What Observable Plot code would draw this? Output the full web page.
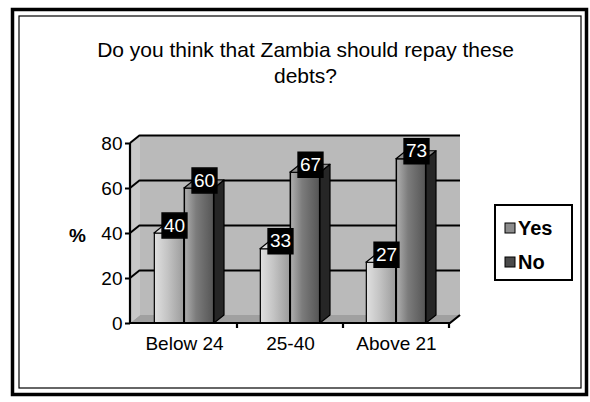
<!DOCTYPE html>
<html>
<head>
<meta charset="utf-8">
<script src="https://cdn.jsdelivr.net/npm/d3@7"></script>
<script src="https://cdn.jsdelivr.net/npm/@observablehq/plot@0.6"></script>
<style>
  html, body { margin: 0; padding: 0; background: #fff; }
  #chart svg { display: block; }
  #chart g[aria-label="y-axis tick"] { stroke-width: 2; }
</style>
</head>
<body>
<div id="chart"></div>
<script>
// ---- data ----
const categories = ["Below 24", "25-40", "Above 21"];
const series = ["Yes", "No"];
const yesValues = [40, 33, 27];
const noValues = [60, 67, 73];
const yTicks = [0, 20, 40, 60, 80];
const titleLines = ["Do you think that Zambia should repay these", "debts?"];
const yLabel = "%";

// ---- styling constants ----
const FONT = "'Liberation Sans', Arial, Helvetica, sans-serif";
const BAR = 30;        // bar width (px)
const DX = 10, DY = -8; // 3D depth offset
const colors = {
  wall: "#bababa", leftWall: "#c8c8c8", floor: "#a0a0a0",
  yesSide: "#5a5a5a", yesTop: "#dedede",
  noSide: "#262626", noTop: "#8e8e8e",
  yesSwatch: "#8c8c8c", noSwatch: "#4a4a4a"
};

const yesData = categories.map((c, i) => ({category: c, series: "Yes", value: yesValues[i]}));
const noData = categories.map((c, i) => ({category: c, series: "No", value: noValues[i]}));

// offset of each series' bar inside a category band
const barOffset = (s, bw) => s === "Yes" ? bw / 2 - BAR : bw / 2;

// gradients
function defs() {
  const g = d3.create("svg:g");
  const d = g.append("defs");
  const yes = d.append("linearGradient").attr("id", "yesGrad").attr("x1", 0).attr("x2", 1);
  yes.append("stop").attr("offset", 0).attr("stop-color", "#e0e0e0");
  yes.append("stop").attr("offset", 0.45).attr("stop-color", "#c4c4c4");
  yes.append("stop").attr("offset", 1).attr("stop-color", "#9c9c9c");
  const no = d.append("linearGradient").attr("id", "noGrad").attr("x1", 0).attr("x2", 1);
  no.append("stop").attr("offset", 0).attr("stop-color", "#b0b0b0");
  no.append("stop").attr("offset", 0.4).attr("stop-color", "#7c7c7c");
  no.append("stop").attr("offset", 1).attr("stop-color", "#555555");
  return g.node();
}

// page border
function border(index, scales, values, dims) {
  const g = d3.create("svg:g").attr("fill", "none").attr("stroke", "#000");
  g.append("rect").attr("x", 12.5).attr("y", 9.5).attr("width", 574).attr("height", 385).attr("stroke-width", 3.5);
  g.append("rect").attr("x", 19).attr("y", 16).attr("width", 562).attr("height", 372).attr("stroke-width", 1.2);
  return g.node();
}

// walls + floor of the 3D box
function walls(index, scales, values, dims) {
  const {width: W, height: H, marginLeft: L, marginRight: R, marginTop: T, marginBottom: B} = dims;
  const y = scales.y;
  const g = d3.create("svg:g");
  g.append("rect").attr("x", L + DX).attr("y", T + DY).attr("width", W - R - L).attr("height", H - B - T)
    .attr("fill", colors.wall);
  g.append("path").attr("d", `M${L},${T}L${L + DX},${T + DY}L${L + DX},${H - B + DY}L${L},${H - B}Z`)
    .attr("fill", colors.leftWall);
  g.append("path").attr("d", `M${L},${H - B}L${L + DX},${H - B + DY}L${W - R + DX},${H - B + DY}L${W - R},${H - B}Z`)
    .attr("fill", colors.floor);
  // diagonal gridlines on the left wall
  yTicks.filter(v => v > 0).forEach(v => {
    g.append("line").attr("x1", L).attr("y1", y(v)).attr("x2", L + DX).attr("y2", y(v) + DY)
      .attr("stroke", "#000").attr("stroke-width", 2);
  });
  return g.node();
}

// side + top faces of bars
function faces(data, side, top) {
  return function (index, scales, values, dims) {
    const x = scales.x, y = scales.y;
    const bw = x.bandwidth ? x.bandwidth() : (dims.width - dims.marginLeft - dims.marginRight) / categories.length;
    const g = d3.create("svg:g").attr("stroke", "#000").attr("stroke-width", 1.2).attr("stroke-linejoin", "round");
    data.forEach(d => {
      const x0 = x(d.category) + barOffset(d.series, bw);
      const x1 = x0 + BAR;
      const yt = y(d.value), yb = y(0);
      g.append("path").attr("d", `M${x1},${yt}L${x1 + DX},${yt + DY}L${x1 + DX},${yb + DY}L${x1},${yb}Z`).attr("fill", side);
      g.append("path").attr("d", `M${x0},${yt}L${x0 + DX},${yt + DY}L${x1 + DX},${yt + DY}L${x1},${yt}Z`).attr("fill", top);
    });
    return g.node();
  };
}

// axis lines & category boundary ticks
function axes(index, scales, values, dims) {
  const {width: W, height: H, marginLeft: L, marginRight: R, marginTop: T, marginBottom: B} = dims;
  const x = scales.x;
  const g = d3.create("svg:g").attr("stroke", "#000").attr("stroke-width", 2.2).attr("fill", "none");
  g.append("path").attr("d", `M${L},${T}L${L},${H - B}L${W - R},${H - B}L${W - R + DX},${H - B + DY}`);
  const bw = x.bandwidth ? x.bandwidth() : (W - L - R) / categories.length;
  categories.forEach(c => {
    const xe = x(c) + bw;
    g.append("line").attr("x1", xe).attr("x2", xe).attr("y1", H - B).attr("y2", H - B + 5);
  });
  return g.node();
}

// legend
function legend(index, scales, values, dims) {
  const g = d3.create("svg:g");
  g.append("rect").attr("x", 495).attr("y", 205).attr("width", 77).attr("height", 75)
    .attr("fill", "#fff").attr("stroke", "#000").attr("stroke-width", 2);
  const items = [[series[0], colors.yesSwatch, 228], [series[1], colors.noSwatch, 262]];
  items.forEach(([label, fill, cy]) => {
    g.append("rect").attr("x", 505).attr("y", cy - 5).attr("width", 10).attr("height", 10)
      .attr("fill", fill).attr("stroke", "#000").attr("stroke-width", 1);
    g.append("text").attr("x", 518).attr("y", cy).attr("dy", "0.36em").attr("text-anchor", "start")
      .attr("font-family", FONT).attr("font-size", 20).attr("font-weight", "bold").attr("fill", "#000")
      .text(label);
  });
  return g.node();
}

const labelMarks = (data, dx) => [
  Plot.dot(data, {x: "category", y: "value", dx, dy: -8, symbol: "square", r: 14, fill: "#000", stroke: "#000"}),
  Plot.text(data, {x: "category", y: "value", dx, dy: -8, text: d => String(d.value), fill: "#fff",
    fontSize: 19, fontFamily: FONT})
];

const chart = Plot.plot({
  width: 590,
  height: 402,
  marginLeft: 130,
  marginRight: 140,
  marginTop: 143,
  marginBottom: 79,
  style: {fontFamily: FONT, fontSize: "19px", color: "#000", background: "#fff", overflow: "visible"},
  x: {type: "band", domain: categories, padding: 0, label: null, tickSize: 0, tickPadding: 13},
  y: {domain: [0, 80], ticks: yTicks, label: null, tickSize: 5, tickPadding: 3},
  marks: [
    defs,
    border,
    walls,
    Plot.ruleY(yTicks.filter(v => v > 0), {dx: DX, dy: DY, stroke: "#000", strokeWidth: 2}),
    Plot.barY(yesData, {x: "category", y: "value", fill: "url(#yesGrad)", stroke: "#000", strokeWidth: 1.2,
      insetLeft: 320 / 6 - BAR, insetRight: 320 / 6}),
    faces(yesData, colors.yesSide, colors.yesTop),
    Plot.barY(noData, {x: "category", y: "value", fill: "url(#noGrad)", stroke: "#000", strokeWidth: 1.5,
      insetLeft: 320 / 6, insetRight: 320 / 6 - BAR}),
    faces(noData, colors.noSide, colors.noTop),
    axes,
    ...labelMarks(yesData, -BAR / 2 + 5),
    ...labelMarks(noData, BAR / 2 + 5),
    Plot.text([yLabel], {frameAnchor: "left", dx: -53, dy: 2, textAnchor: "middle", fontWeight: "bold", fontSize: 19}),
    Plot.text([titleLines[0]], {frameAnchor: "top", dx: 15, dy: 50 - 143, lineAnchor: "middle", fontSize: 21}),
    Plot.text([titleLines[1]], {frameAnchor: "top", dx: 15, dy: 76 - 143, lineAnchor: "middle", fontSize: 21}),
    legend
  ]
});

document.getElementById("chart").append(chart);
</script>
</body>
</html>
